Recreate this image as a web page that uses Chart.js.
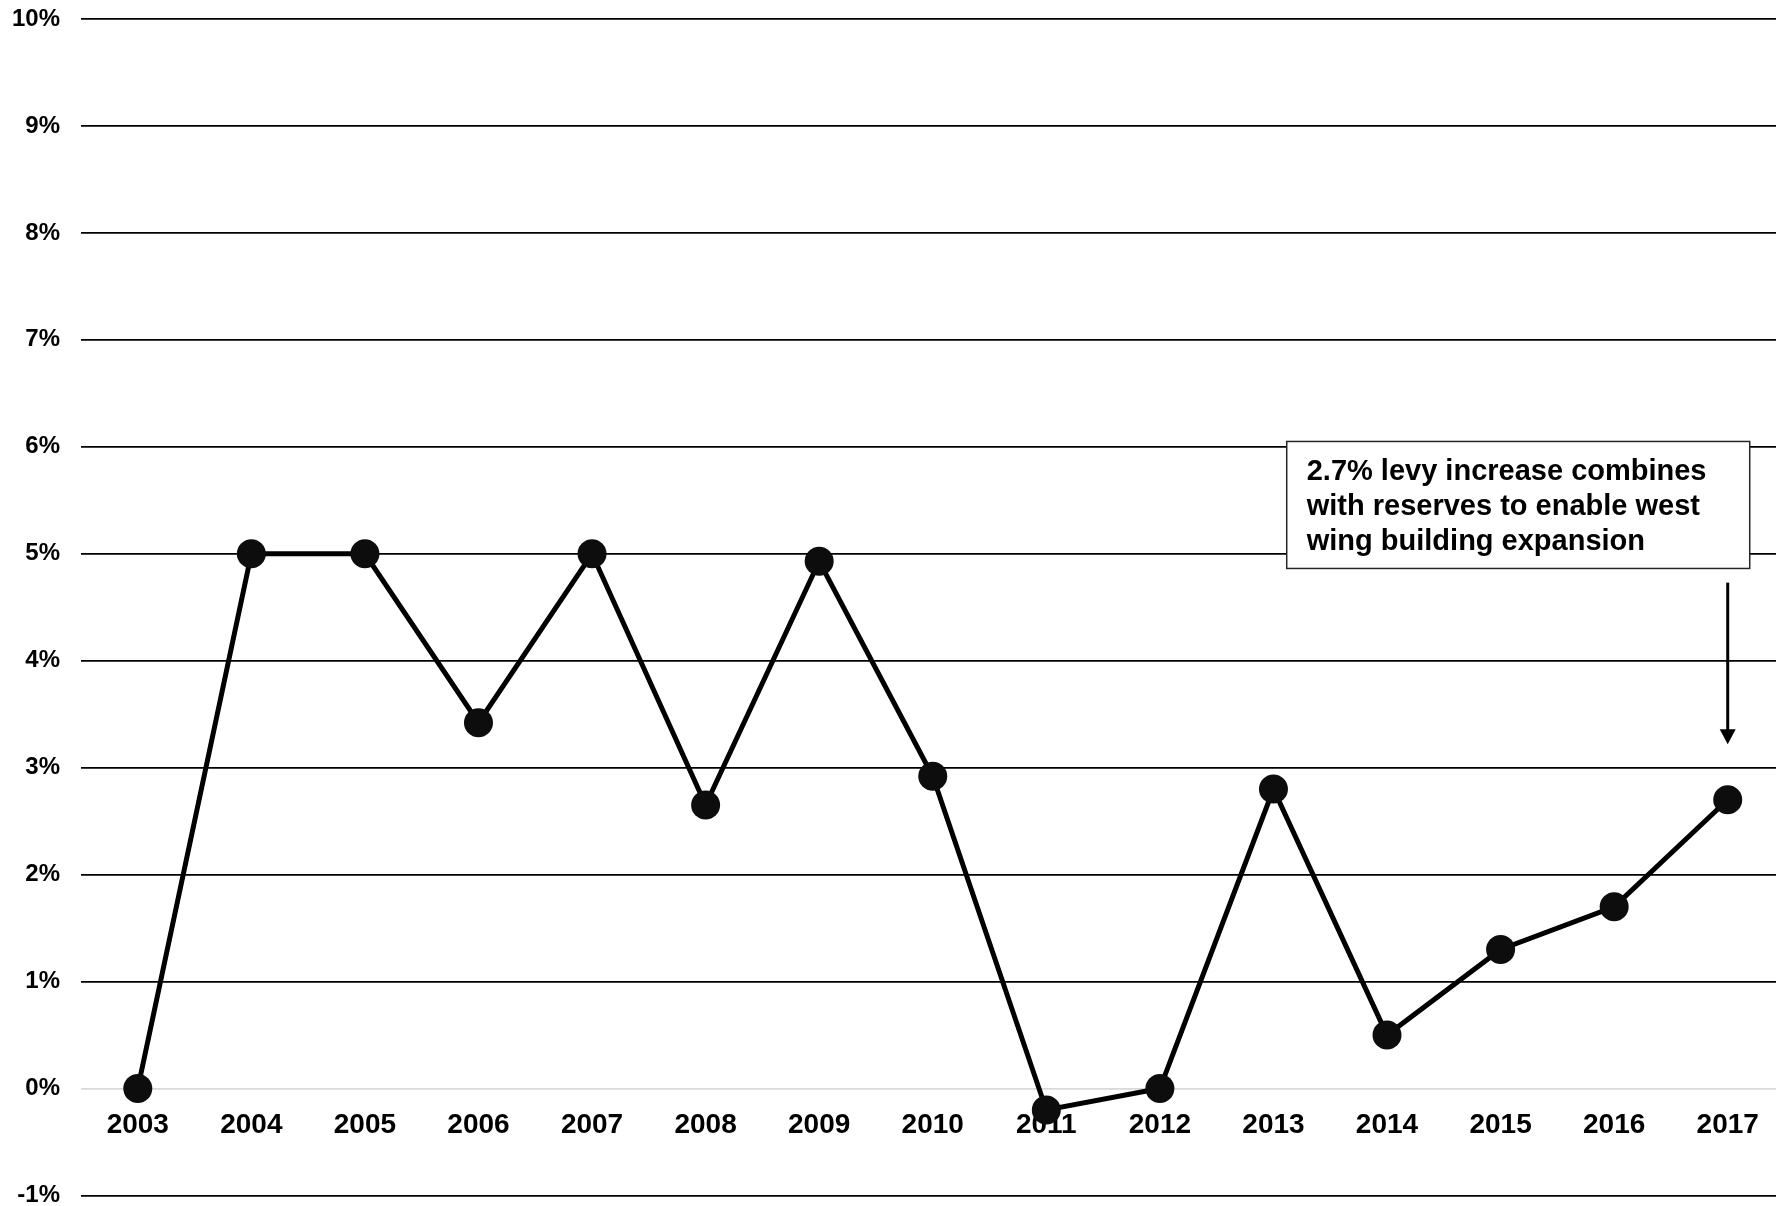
<!DOCTYPE html>
<html>
<head>
<meta charset="utf-8">
<style>
  html, body { margin: 0; padding: 0; background: #fff; overflow: hidden; }
  #wrap { width: 1799px; height: 1210px; }
</style>
<script src="https://cdn.jsdelivr.net/npm/chart.js@4/dist/chart.umd.min.js"></script>
</head>
<body>
<div id="wrap"><canvas id="chart" width="1799" height="1210"></canvas></div>
<script>
// Annual levy change by year
const years = ['2003', '2004', '2005', '2006', '2007', '2008', '2009', '2010',
               '2011', '2012', '2013', '2014', '2015', '2016', '2017'];
const levyChange = [0, 5, 5, 3.42, 5, 2.65, 4.93, 2.92, -0.2, 0, 2.8, 0.5, 1.3, 1.7, 2.7];

// Value axis range
const yMin = -1;
const yMax = 10;

// Callout text
const noteLines = [
  '2.7% levy increase combines',
  'with reserves to enable west',
  'wing building expansion'
];
const noteYear = '2017';
const noteValue = 2.7;

const FONT = '"Liberation Sans", Arial, Helvetica, sans-serif';

const calloutPlugin = {
  id: 'callout',
  afterDraw(chart) {
    const { ctx } = chart;
    const xs = chart.scales.x, ys = chart.scales.y;
    const ax = xs.getPixelForValue(years.indexOf(noteYear));
    const pointY = ys.getPixelForValue(noteValue);
    const unit = ys.getPixelForValue(0) - ys.getPixelForValue(1);

    // Arrow pointing down to the point
    const arrowTop = pointY - 2.03 * unit;
    const arrowTip = pointY - 0.52 * unit;
    ctx.save();
    ctx.strokeStyle = '#000';
    ctx.fillStyle = '#000';
    ctx.lineWidth = 3;
    ctx.beginPath();
    ctx.moveTo(ax, arrowTop);
    ctx.lineTo(ax, arrowTip - 12);
    ctx.stroke();
    ctx.beginPath();
    ctx.moveTo(ax - 8, arrowTip - 15);
    ctx.lineTo(ax + 8, arrowTip - 15);
    ctx.lineTo(ax, arrowTip);
    ctx.closePath();
    ctx.fill();

    // Text box
    const boxRight = ax + 22;
    const boxLeft = boxRight - 463;
    const boxTop = ys.getPixelForValue(6.05);
    const boxH = 127;
    ctx.fillStyle = '#fff';
    ctx.fillRect(boxLeft, boxTop, boxRight - boxLeft, boxH);
    ctx.strokeStyle = '#262626';
    ctx.lineWidth = 1.5;
    ctx.strokeRect(boxLeft, boxTop, boxRight - boxLeft, boxH);

    ctx.fillStyle = '#000';
    ctx.font = 'bold 29px ' + FONT;
    ctx.textAlign = 'left';
    ctx.textBaseline = 'middle';
    noteLines.forEach((line, i) => {
      ctx.fillText(line, boxLeft + 20, boxTop + 31 + i * 35);
    });
    ctx.restore();
  }
};

new Chart(document.getElementById('chart'), {
  type: 'line',
  data: {
    labels: years,
    datasets: [{
      data: levyChange,
      borderColor: '#000',
      borderWidth: 5,
      backgroundColor: '#0d0d0d',
      pointBackgroundColor: '#0d0d0d',
      pointBorderWidth: 0,
      pointRadius: 14.5,
      pointHoverRadius: 14.5,
      tension: 0,
      fill: false
    }]
  },
  options: {
    responsive: false,
    animation: false,
    events: [],
    layout: { padding: { top: 19, bottom: 3, left: 0, right: 0 } },
    plugins: {
      legend: { display: false },
      tooltip: { enabled: false },
      title: { display: false }
    },
    scales: {
      x: {
        position: { y: 0 },
        offset: true,
        afterFit(scale) {
          scale.paddingLeft = 0;
          scale.paddingRight = 0;
          scale.paddingTop = 0;
          scale.paddingBottom = 0;
        },
        grid: { display: false, drawTicks: false },
        border: { display: false },
        ticks: {
          color: '#000',
          padding: 20,
          font: { family: FONT, size: 28, weight: 'bold' }
        }
      },
      y: {
        min: yMin,
        max: yMax,
        afterFit(scale) {
          scale.width = 81;
          scale.paddingTop = 0;
          scale.paddingBottom = 0;
        },
        grid: {
          drawTicks: false,
          lineWidth: 1.8,
          color: ctx => (ctx.tick && ctx.tick.value === 0) ? '#d9d9d9' : '#000'
        },
        border: { display: false },
        ticks: {
          stepSize: 1,
          color: '#000',
          padding: 21,
          font: { family: FONT, size: 24, weight: 'bold' },
          callback: v => v + '%'
        }
      }
    }
  },
  plugins: [calloutPlugin]
});
</script>
</body>
</html>
